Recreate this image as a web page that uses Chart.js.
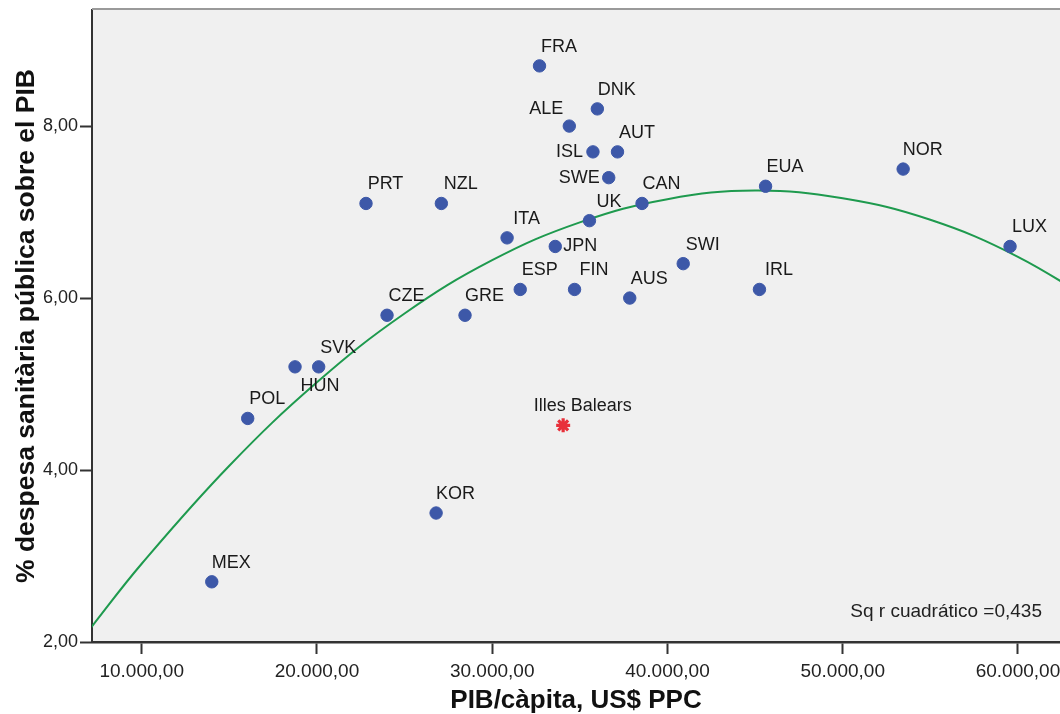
<!DOCTYPE html>
<html>
<head>
<meta charset="utf-8">
<script src="https://cdn.jsdelivr.net/npm/chart.js@4.4.1/dist/chart.umd.min.js"></script>
<style>
  html, body { margin: 0; padding: 0; background: #fff; overflow: hidden; }
  #wrap { width: 1060px; height: 714px; position: relative; }
  canvas { display: block; }
</style>
</head>
<body>
<div id="wrap"><canvas id="myChart"></canvas></div>
<script>
const countries = ["FRA", "DNK", "ALE", "ISL", "AUT", "SWE", "CAN", "UK", "ITA", "JPN",
  "ESP", "FIN", "AUS", "SWI", "IRL", "EUA", "NOR", "LUX", "PRT", "NZL",
  "CZE", "GRE", "SVK", "HUN", "POL", "KOR", "MEX"];
const gdpPerCapita = [32700, 36000, 34400, 35750, 37150, 36650, 38550, 35550, 30850, 33600,
  31600, 34700, 37850, 40900, 45250, 45600, 53450, 59550, 22800, 27100,
  24000, 28450, 20100, 18750, 16050, 26800, 14000];
const healthSpend = [8.7, 8.2, 8.0, 7.7, 7.7, 7.4, 7.1, 6.9, 6.7, 6.6,
  6.1, 6.1, 6.0, 6.4, 6.1, 7.3, 7.5, 6.6, 7.1, 7.1,
  5.8, 5.8, 5.2, 5.2, 4.6, 3.5, 2.7];

const balearsName = ["Illes Balears"];
const balearsGdp = [34050];
const balearsSpend = [4.52];

// quadratic fit line
const fitX = [7000, 10000, 15000, 20000, 25000, 30000, 35000, 40000, 45000, 50000, 55000, 60000, 65000];
const fitY = [2.14, 2.91, 4.05, 5.02, 5.82, 6.44, 6.88, 7.15, 7.25, 7.16, 6.91, 6.48, 5.87];

const xTicks = [10000, 20000, 30000, 40000, 50000, 60000];
const yTicks = [2, 4, 6, 8];
const rSquaredText = "Sq r cuadrático =0,435";

const xTitle = "PIB/càpita, US$ PPC";
const yTitle = "% despesa sanitària pública sobre el PIB";

function fmt(v) {
  const parts = Number(v).toFixed(2).split(".");
  return parts[0].replace(/\B(?=(\d{3})+(?!\d))/g, ".") + "," + parts[1];
}

// label placement tweaks (dx, dy, align); default is up-right of the dot
const labelPos = {
  ALE: [-23, -17, "center"],
  ISL: [-10, 0, "right"],
  SWE: [-9, 0, "right"],
  JPN: [8, 0, "left"],
  HUN: [25, 19, "center"],
};

const bgPlugin = {
  id: "plotBg",
  beforeDraw(chart) {
    const { ctx, chartArea: a } = chart;
    ctx.save();
    ctx.fillStyle = "#f0f0f0";
    ctx.fillRect(a.left, a.top, a.right - a.left, a.bottom - a.top);
    ctx.restore();
  },
  afterDraw(chart) {
    const { ctx, chartArea: a } = chart;
    ctx.save();
    ctx.strokeStyle = "#9a9a9a";
    ctx.lineWidth = 2;
    ctx.beginPath();
    ctx.moveTo(a.left, a.top - 1);
    ctx.lineTo(a.right, a.top - 1);
    ctx.stroke();
    ctx.fillStyle = "#222";
    ctx.font = "19px 'Liberation Sans', Arial, sans-serif";
    ctx.textAlign = "right";
    ctx.textBaseline = "middle";
    ctx.fillText(rSquaredText, 1042, 612);
    ctx.restore();
  },
};

const labelPlugin = {
  id: "pointLabels",
  afterDatasetsDraw(chart) {
    const { ctx } = chart;
    ctx.save();
    ctx.fillStyle = "#1a1a1a";
    ctx.font = "18px 'Liberation Sans', Arial, sans-serif";
    ctx.textBaseline = "middle";
    const draw = (meta, names) => {
      meta.data.forEach((pt, i) => {
        const p = labelPos[names[i]] || [19.5, -19, "center"];
        ctx.textAlign = p[2];
        ctx.fillText(names[i], pt.x + p[0], pt.y + p[1]);
      });
    };
    draw(chart.getDatasetMeta(1), countries);
    draw(chart.getDatasetMeta(2), balearsName);
    ctx.restore();
  },
};

const chart = document.getElementById("myChart");

const config = {
  type: "scatter",
  data: {
    datasets: [
      {
        type: "line",
        label: "fit",
        data: fitX.map((x, i) => ({ x: x, y: fitY[i] })),
        borderColor: "#1e9a4e",
        borderWidth: 2,
        pointRadius: 0,
        tension: 0.4,
        fill: false,
        order: 3,
      },
      {
        label: "OCDE",
        data: gdpPerCapita.map((x, i) => ({ x: x, y: healthSpend[i] })),
        backgroundColor: "#3d58a8",
        borderColor: "#3d58a8",
        borderWidth: 1,
        pointRadius: 6.2,
        order: 1,
      },
      {
        label: "Illes Balears",
        data: balearsGdp.map((x, i) => ({ x: x, y: balearsSpend[i] })),
        pointStyle: "star",
        borderColor: "#e8303a",
        backgroundColor: "#e8303a",
        borderWidth: 3.2,
        pointRadius: 7,
        order: 0,
      },
    ],
  },
  options: {
    responsive: true,
    maintainAspectRatio: false,
    animation: false,
    layout: { autoPadding: false, padding: { top: 10, right: 0, bottom: 0, left: 0 } },
    plugins: {
      legend: { display: false },
      tooltip: { enabled: false },
      title: { display: false },
    },
    scales: {
      x: {
        type: "linear",
        min: 7165,
        max: 62400,
        afterBuildTicks: (s) => { s.ticks = xTicks.map((v) => ({ value: v })); },
        afterFit: (s) => { s.height = 72; s.paddingLeft = 0; s.paddingRight = 0; },
        ticks: {
          callback: (v) => fmt(v),
          color: "#222",
          font: { family: "'Liberation Sans', Arial, sans-serif", size: 19 },
          padding: 6,
          maxRotation: 0,
          autoSkip: false,
        },
        grid: { drawOnChartArea: false, drawTicks: true, tickLength: 12, tickColor: "#333", tickWidth: 2 },
        border: { display: true, color: "#333", width: 2.5 },
        title: {
          display: true,
          text: xTitle,
          color: "#111",
          font: { family: "'Liberation Sans', Arial, sans-serif", size: 26, weight: "bold", lineHeight: 1 },
          padding: { top: 0, bottom: 0 },
        },
      },
      y: {
        type: "linear",
        min: 2,
        max: 9.35,
        afterBuildTicks: (s) => { s.ticks = yTicks.map((v) => ({ value: v })); },
        afterFit: (s) => { s.width = 92; s.paddingTop = 0; s.paddingBottom = 0; },
        ticks: {
          callback: (v) => fmt(v),
          color: "#222",
          font: { family: "'Liberation Sans', Arial, sans-serif", size: 18 },
          padding: 2,
        },
        grid: { drawOnChartArea: false, drawTicks: true, tickLength: 12, tickColor: "#333", tickWidth: 2 },
        border: { display: true, color: "#333", width: 2 },
        title: {
          display: true,
          text: yTitle,
          color: "#111",
          font: { family: "'Liberation Sans', Arial, sans-serif", size: 26.5, weight: "bold", lineHeight: 1 },
          padding: { top: 13, bottom: 0 },
        },
      },
    },
  },
  plugins: [bgPlugin, labelPlugin],
};

const chart01 = new Chart(chart, config);
</script>
</body>
</html>
